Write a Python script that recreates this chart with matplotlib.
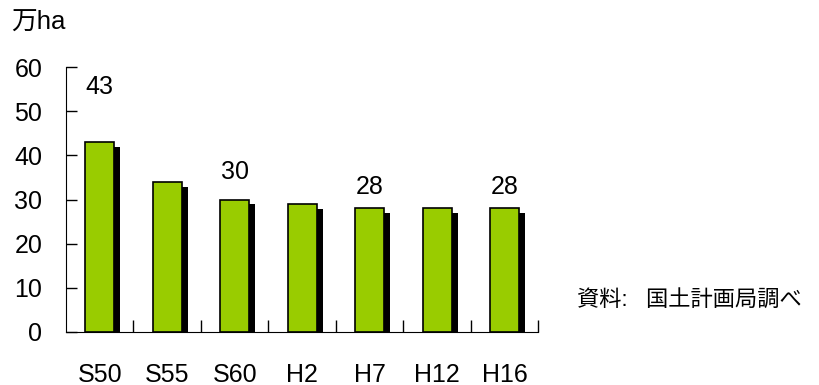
import matplotlib.pyplot as plt
import numpy as np

plt.rcParams['font.family'] = ['Liberation Sans', 'Noto Sans CJK JP', 'DejaVu Sans']

years = ['S50', 'S55', 'S60', 'H2', 'H7', 'H12', 'H16']
area = [43, 34, 30, 29, 28, 28, 28]   # 万ha
labeled = [0, 2, 4, 6]                # bars that carry a value label
label_lift = [12.5, 6.2, 4.8, 4.8]

green = '#99cc00'
fs = 18

fig = plt.figure(figsize=(8.2, 3.85), dpi=100)
ax = fig.add_axes([0.0805, 0.1377, 0.576, 0.688])

x = np.arange(len(years))
w = 0.43
# drop shadow behind each bar
ax.bar(x + w / 2 + 0.045, np.array(area) - 1.1, width=0.09, color='black', zorder=1)
ax.bar(x, area, width=w, color=green, edgecolor='black', linewidth=1.2, zorder=2)

for i, lift in zip(labeled, label_lift):
    ax.text(x[i], area[i] + lift, str(area[i]), ha='center', va='center', fontsize=fs)

ax.set_xlim(-0.5, len(years) - 0.5)
ax.set_ylim(0, 60)
ax.set_yticks(range(0, 61, 10))
ax.set_xticks(x)
ax.set_xticklabels(years)
ax.set_xticks(np.arange(0.5, len(years), 1), minor=True)

ax.spines['top'].set_visible(False)
ax.spines['right'].set_visible(False)
ax.tick_params(axis='y', direction='in', length=8, width=1, labelsize=fs, pad=17)
ax.tick_params(axis='x', which='major', length=0, labelsize=fs, pad=22)
ax.tick_params(axis='x', which='minor', direction='in', length=9, width=1)

fig.text(0.014, 0.94, '万ha', fontsize=18.5, va='center', ha='left')
fig.text(0.704, 0.22, '資料:   国土計画局調べ', fontsize=16, va='center', ha='left')

fig.savefig('out.png', dpi=100)
